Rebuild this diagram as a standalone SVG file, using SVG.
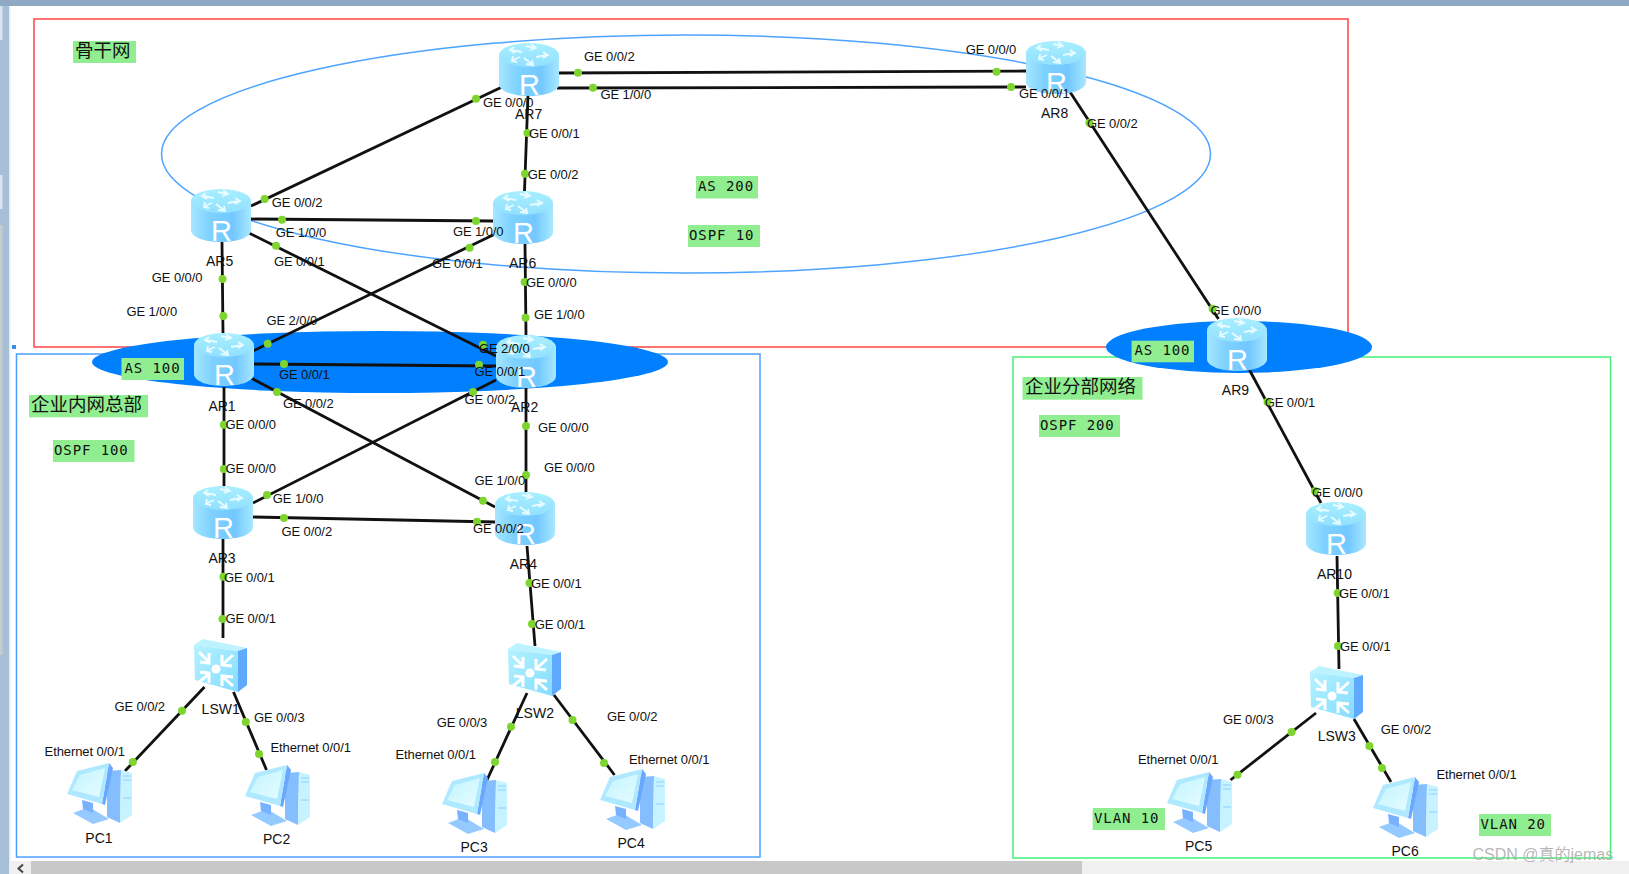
<svg xmlns="http://www.w3.org/2000/svg" xmlns:xlink="http://www.w3.org/1999/xlink" width="1629" height="874" viewBox="0 0 1629 874">
<style>
  text { font-family: "Liberation Sans", Arial, sans-serif; fill: #111; }
  .port { font-size: 13px; letter-spacing: -0.1px; }
  .name { font-size: 14px; }
  .icon-r { font-size: 29px; fill: #fff; font-weight: normal; }
  .tag { fill: #90ee90; }
  .mono { font-family: "DejaVu Sans Mono", monospace; font-size: 14px; letter-spacing: 0.9px; }
  .cjk { font-family: "Noto Sans CJK SC", "Liberation Sans", sans-serif; font-size: 18.500px; }
  .mark { font-family: "Liberation Sans", "Noto Sans CJK SC", sans-serif; font-size: 16px; fill: #aaa; fill-opacity: 0.85; }
  .lnk { stroke: #111; stroke-width: 2.800; fill: none; }
  .dot { fill: #7ed52f; }
  .zone { fill: none; stroke-width: 1.500; }
  .wh { fill: none; stroke: #e8fcff; stroke-width: 1.800; }
  .wh2 { fill: none; stroke: #fff; stroke-width: 3; }
</style>
<defs>
  <linearGradient id="body" x1="0" x2="1" y1="0" y2="0">
    <stop offset="0" stop-color="#a5e6ff"/><stop offset="0.3" stop-color="#7fd2ff"/>
    <stop offset="0.7" stop-color="#72c8ff"/><stop offset="1" stop-color="#a8e8ff"/>
  </linearGradient>
  <linearGradient id="top" x1="0" x2="0" y1="0" y2="1">
    <stop offset="0" stop-color="#a8efff"/><stop offset="1" stop-color="#92e0ff"/>
  </linearGradient>
  <linearGradient id="face" x1="0" x2="1" y1="0" y2="1">
    <stop offset="0" stop-color="#b4f2ff"/><stop offset="1" stop-color="#86dcff"/>
  </linearGradient>
  <linearGradient id="screen" x1="0" x2="1" y1="0" y2="1">
    <stop offset="0" stop-color="#c4f4ff"/><stop offset="1" stop-color="#e4fcff"/>
  </linearGradient>
  <!-- router drum, 60 x 53; the letter sits on top per node -->
  <g id="router">
    <path d="M0 12 V41 C0 48 13 53 30 53 S60 48 60 41 V12 Z" fill="url(#body)"/>
    <ellipse cx="30" cy="12" rx="30" ry="12" fill="url(#top)"/>
    <g class="wh">
      <path d="M23 9 L12 7 M15 4 L11 7 L16 10"/>
      <path d="M36 5 L27 3 M32 1 L37 5 L31 7"/>
      <path d="M37 14 L48 12 M44 9 L49 12 L44 15"/>
      <path d="M25 15 L33 21 M27 21 L34 22 L33 17"/>
      <path d="M21 14 L14 17 M14 13 L13 18 L18 19"/>
    </g>
  </g>
  <!-- layer-3 switch box, 53 x 53 -->
  <g id="switch">
    <polygon points="0,6 9,0 53,9 44,12" fill="#bdf3ff"/>
    <polygon points="44,12 53,9 53,46 44,53" fill="#5fa9ff"/>
    <polygon points="0,6 44,12 44,53 1,41" fill="url(#face)"/>
    <circle cx="22" cy="30" r="4.500" fill="#fff"/>
    <g class="wh2">
      <path d="M5 13 L15 23 M6 23 L15 24 L15 14"/>
      <path d="M39 16 L28 26 M28 16 L28 26 L38 27"/>
      <path d="M5 43 L15 35 M6 33 L15 34 L15 44"/>
      <path d="M39 47 L28 37 M28 47 L28 37 L39 38"/>
    </g>
  </g>
  <!-- desktop computer, 65 x 64 -->
  <g id="pc">
    <polygon points="40,8 54,7 53,60 40,54" fill="#84beff"/>
    <polygon points="54,7 65,10 65,52 53,60" fill="#c6f3ff"/>
    <path d="M56 13 H64 M56 17 H64 M56 35 H64" stroke="#8fd0ff" stroke-width="1" fill="none"/>
    <polygon points="6,50 22,44 42,56 26,61" fill="#94caff"/>
    <polygon points="15,37 26,40 26,50 16,46" fill="#78b2ff"/>
    <polygon points="42,0 46,5 38,42 35,41" fill="#6aa8ff"/>
    <polygon points="10,8 42,0 35,41 0,31" fill="#aee9ff"/>
    <polygon points="13,12 38,5 32,34 5,27" fill="url(#screen)"/>
  </g>
</defs>

<rect width="1629" height="874" fill="#fff"/>

<!-- window frame and scroll bar -->
<rect x="0" y="0" width="1629" height="6" fill="#8fa9c4"/>
<rect x="0" y="6" width="9" height="868" fill="#a6bed6"/>
<rect x="0" y="6" width="2.500" height="34" fill="#d8e4f0"/>
<rect x="0" y="175" width="2.500" height="34" fill="#d8e4f0"/>
<rect x="0" y="225" width="2.500" height="430" fill="#c8ccd0"/>
<rect x="9" y="6" width="1.500" height="868" fill="#e6edf4"/>
<rect x="10" y="861" width="1619" height="13" fill="#f0f0f0"/>
<rect x="31" y="861" width="1051" height="13" fill="#c8c8c8"/>
<path d="M23 864.500 L18.500 868.500 L23 872.500" fill="none" stroke="#444" stroke-width="2"/>
<rect x="12" y="345" width="4" height="4" fill="#3a8ee6"/>

<!-- area frames and AS ovals -->
<rect class="zone" x="34" y="19" width="1314" height="328" stroke="#f44"/>
<rect class="zone" x="16.500" y="354" width="743.500" height="503" stroke="#4aa0ff"/>
<rect class="zone" x="1013" y="357" width="597.500" height="501" stroke="#44f07a"/>
<ellipse cx="686" cy="154" rx="524.500" ry="119" fill="none" stroke="#4da4ff" stroke-width="1.500"/>
<ellipse cx="380" cy="362" rx="288" ry="31" fill="#007fff"/>
<ellipse cx="1239" cy="347" rx="133" ry="26" fill="#007fff"/>

<!-- links and their port markers -->
<g id="connectors">
  <line class="lnk" x1="251" y1="206" x2="502" y2="87"/>
  <line class="lnk" x1="251" y1="219" x2="493" y2="221"/>
  <line class="lnk" x1="249" y1="233" x2="496" y2="356"/>
  <line class="lnk" x1="493" y1="235" x2="253" y2="351"/>
  <line class="lnk" x1="222" y1="242" x2="223" y2="333"/>
  <line class="lnk" x1="525" y1="244" x2="526" y2="335"/>
  <line class="lnk" x1="253" y1="364" x2="496" y2="366" stroke-width="3.200"/>
  <line class="lnk" x1="251" y1="378" x2="495" y2="507"/>
  <line class="lnk" x1="496" y1="380" x2="253" y2="503"/>
  <line class="lnk" x1="224" y1="387" x2="224" y2="486"/>
  <line class="lnk" x1="526" y1="388" x2="526" y2="492"/>
  <line class="lnk" x1="253" y1="517" x2="495" y2="522"/>
  <line class="lnk" x1="223" y1="539" x2="223" y2="638"/>
  <line class="lnk" x1="527" y1="546" x2="535" y2="646"/>
  <line class="lnk" x1="204.500" y1="687" x2="125" y2="771"/>
  <line class="lnk" x1="233.500" y1="692" x2="266.500" y2="770"/>
  <line class="lnk" x1="527" y1="693" x2="487" y2="780"/>
  <line class="lnk" x1="554" y1="695" x2="614.500" y2="775"/>
  <line class="lnk" x1="559" y1="73" x2="1026" y2="71"/>
  <line class="lnk" x1="557" y1="88" x2="1026" y2="87"/>
  <line class="lnk" x1="528" y1="95" x2="524.500" y2="191"/>
  <line class="lnk" x1="1070" y1="92" x2="1218.500" y2="319"/>
  <line class="lnk" x1="1249.500" y1="370" x2="1321" y2="503"/>
  <line class="lnk" x1="1337" y1="556" x2="1339" y2="669"/>
  <line class="lnk" x1="1316" y1="713" x2="1230.500" y2="780"/>
  <line class="lnk" x1="1354" y1="719" x2="1391" y2="782"/>
  <g class="dot">
    <circle cx="264.600" cy="199" r="4"/><circle cx="282" cy="219.700" r="4"/><circle cx="276" cy="245.700" r="4"/>
    <circle cx="222.500" cy="279" r="4"/><circle cx="476" cy="98.700" r="4"/><circle cx="476" cy="221" r="4"/>
    <circle cx="469.600" cy="247.700" r="4"/><circle cx="527.500" cy="133" r="4"/><circle cx="525" cy="173.700" r="4"/>
    <circle cx="524.600" cy="282" r="4"/><circle cx="223.400" cy="316" r="4"/><circle cx="525.500" cy="317.700" r="4"/>
    <circle cx="267.700" cy="343.700" r="4"/><circle cx="483" cy="344.700" r="4"/><circle cx="284" cy="364" r="4"/>
    <circle cx="479" cy="364.700" r="4"/><circle cx="277" cy="392" r="4"/><circle cx="473" cy="392" r="4"/>
    <circle cx="223.800" cy="424.700" r="4"/><circle cx="526" cy="426" r="4"/><circle cx="223.800" cy="469" r="4"/>
    <circle cx="526" cy="475" r="4"/><circle cx="267" cy="495" r="4"/><circle cx="483" cy="500.700" r="4"/>
    <circle cx="284" cy="518" r="4"/><circle cx="477" cy="521.700" r="4"/><circle cx="223.400" cy="576.700" r="4"/>
    <circle cx="529.500" cy="583" r="4"/><circle cx="222.500" cy="619" r="4"/><circle cx="532" cy="624" r="4"/>
    <circle cx="182" cy="710.700" r="4"/><circle cx="245.800" cy="722" r="4"/><circle cx="132.800" cy="762" r="4"/>
    <circle cx="259" cy="754" r="4"/><circle cx="511" cy="726.700" r="4"/><circle cx="572.500" cy="720" r="4"/>
    <circle cx="495" cy="762" r="4"/><circle cx="604" cy="763" r="4"/><circle cx="578" cy="72.700" r="4"/>
    <circle cx="593" cy="87.700" r="4"/><circle cx="996.500" cy="71.700" r="4"/><circle cx="1011" cy="87" r="4"/>
    <circle cx="1089.400" cy="122.700" r="4"/><circle cx="1212.600" cy="308.700" r="4"/><circle cx="1267.500" cy="401.700" r="4"/>
    <circle cx="1315" cy="491" r="4"/><circle cx="1337.700" cy="593" r="4"/><circle cx="1338" cy="646" r="4"/>
    <circle cx="1291.600" cy="732" r="4"/><circle cx="1369.400" cy="746" r="4"/><circle cx="1237.500" cy="774.700" r="4"/>
    <circle cx="1382" cy="768" r="4"/>
  </g>
</g>

<!-- routers -->
<g id="AR1"><use href="#router" x="194" y="333"/><text class="icon-r" x="214" y="385">R</text><text class="name" x="208.400" y="410.700">AR1</text></g>
<g id="AR2"><use href="#router" x="496" y="335"/><text class="icon-r" x="516" y="387">R</text><text class="name" x="511" y="412">AR2</text></g>
<g id="AR3"><use href="#router" x="193" y="486"/><text class="icon-r" x="213" y="538">R</text><text class="name" x="208.400" y="563">AR3</text></g>
<g id="AR4"><use href="#router" x="495" y="492"/><text class="icon-r" x="515" y="544">R</text><text class="name" x="509.700" y="569">AR4</text></g>
<g id="AR5"><use href="#router" x="191" y="189"/><text class="icon-r" x="211" y="241">R</text><text class="name" x="206" y="265.700">AR5</text></g>
<g id="AR6"><use href="#router" x="493" y="191"/><text class="icon-r" x="513" y="243">R</text><text class="name" x="509" y="267.700">AR6</text></g>
<g id="AR7"><use href="#router" x="499" y="43"/><text class="icon-r" x="519" y="95">R</text><text class="name" x="515" y="119">AR7</text></g>
<g id="AR8"><use href="#router" x="1026" y="41"/><text class="icon-r" x="1046" y="93">R</text><text class="name" x="1041" y="118">AR8</text></g>
<g id="AR9"><use href="#router" x="1207" y="318"/><text class="icon-r" x="1227" y="370">R</text><text class="name" x="1221.800" y="394.700">AR9</text></g>
<g id="AR10"><use href="#router" x="1306" y="502"/><text class="icon-r" x="1326" y="554">R</text><text class="name" x="1316.900" y="579">AR10</text></g>

<!-- switches -->
<g id="LSW1"><use href="#switch" x="194" y="639"/><text class="name" x="201.600" y="714">LSW1</text></g>
<g id="LSW2"><use href="#switch" x="508" y="643"/><text class="name" x="515.800" y="718">LSW2</text></g>
<g id="LSW3"><use href="#switch" x="1310" y="666"/><text class="name" x="1317.700" y="741">LSW3</text></g>

<!-- hosts -->
<g id="PC1"><use href="#pc" x="67" y="763"/><text class="name" x="85.300" y="843.300">PC1</text></g>
<g id="PC2"><use href="#pc" x="245" y="765"/><text class="name" x="263" y="844">PC2</text></g>
<g id="PC3"><use href="#pc" x="442" y="773"/><text class="name" x="460.500" y="851.700">PC3</text></g>
<g id="PC4"><use href="#pc" x="600" y="769"/><text class="name" x="617.500" y="848">PC4</text></g>
<g id="PC5"><use href="#pc" x="1167" y="772"/><text class="name" x="1185" y="850.700">PC5</text></g>
<g id="PC6"><use href="#pc" x="1373" y="777"/><text class="name" x="1391.500" y="856">PC6</text></g>

<!-- interface labels -->
<g id="ports" class="port">
  <text x="271.800" y="207">GE 0/0/2</text><text x="275.700" y="237">GE 1/0/0</text><text x="274" y="266">GE 0/0/1</text>
  <text x="151.800" y="282">GE 0/0/0</text><text x="482.900" y="107">GE 0/0/0</text><text x="529" y="138">GE 0/0/1</text>
  <text x="527.800" y="179">GE 0/0/2</text><text x="452.900" y="235.700">GE 1/0/0</text><text x="432" y="268">GE 0/0/1</text>
  <text x="526" y="287">GE 0/0/0</text><text x="126.500" y="315.700">GE 1/0/0</text><text x="534" y="319.300">GE 1/0/0</text>
  <text x="266.500" y="324.700">GE 2/0/0</text><text x="479" y="353">GE 2/0/0</text><text x="279" y="379">GE 0/0/1</text>
  <text x="474.500" y="376">GE 0/0/1</text><text x="283" y="408">GE 0/0/2</text><text x="464.600" y="404">GE 0/0/2</text>
  <text x="225.400" y="429">GE 0/0/0</text><text x="538" y="432">GE 0/0/0</text><text x="225.400" y="473">GE 0/0/0</text>
  <text x="544" y="472">GE 0/0/0</text><text x="474.500" y="484.700">GE 1/0/0</text><text x="272.800" y="503">GE 1/0/0</text>
  <text x="281.500" y="535.700">GE 0/0/2</text><text x="473" y="533">GE 0/0/2</text><text x="224" y="582">GE 0/0/1</text>
  <text x="531" y="588">GE 0/0/1</text><text x="225.400" y="623">GE 0/0/1</text><text x="534.700" y="629">GE 0/0/1</text>
  <text x="114.400" y="710.700">GE 0/0/2</text><text x="254" y="722">GE 0/0/3</text><text x="44.600" y="756">Ethernet 0/0/1</text>
  <text x="270.500" y="752">Ethernet 0/0/1</text><text x="436.700" y="727">GE 0/0/3</text><text x="606.900" y="720.700">GE 0/0/2</text>
  <text x="395.500" y="758.700">Ethernet 0/0/1</text><text x="629" y="763.700">Ethernet 0/0/1</text>
  <text x="584" y="61">GE 0/0/2</text><text x="600.500" y="99.300">GE 1/0/0</text><text x="965.700" y="54.300">GE 0/0/0</text>
  <text x="1019" y="98.300">GE 0/0/1</text><text x="1087" y="128">GE 0/0/2</text><text x="1210.600" y="315">GE 0/0/0</text>
  <text x="1264.700" y="407.300">GE 0/0/1</text><text x="1312" y="497">GE 0/0/0</text><text x="1339" y="598">GE 0/0/1</text>
  <text x="1340" y="651">GE 0/0/1</text><text x="1223" y="723.700">GE 0/0/3</text><text x="1380.700" y="733.700">GE 0/0/2</text>
  <text x="1138" y="763.700">Ethernet 0/0/1</text><text x="1436.400" y="779">Ethernet 0/0/1</text>
</g>

<!-- green annotation tags -->
<g id="tags">
  <rect class="tag" x="73" y="41" width="63" height="22"/><text class="cjk" x="75" y="57">骨干网</text>
  <rect class="tag" x="696" y="176" width="62" height="22.500"/><text class="mono" x="698" y="191">AS 200</text>
  <rect class="tag" x="688" y="225" width="72" height="22"/><text class="mono" x="689" y="240">OSPF 10</text>
  <rect class="tag" x="121.500" y="358" width="62.500" height="22"/><text class="mono" x="124.500" y="372.700">AS 100</text>
  <rect class="tag" x="29" y="395" width="119" height="22.300"/><text class="cjk" x="31" y="410.500">企业内网总部</text>
  <rect class="tag" x="53" y="440" width="81.500" height="22"/><text class="mono" x="54" y="455">OSPF 100</text>
  <rect class="tag" x="1131.600" y="340.700" width="62.400" height="21.600"/><text class="mono" x="1134.400" y="355">AS 100</text>
  <rect class="tag" x="1022.500" y="377" width="120" height="22.700"/><text class="cjk" x="1025" y="392.700">企业分部网络</text>
  <rect class="tag" x="1039" y="415" width="81" height="22"/><text class="mono" x="1040" y="430">OSPF 200</text>
  <rect class="tag" x="1092.700" y="808" width="72.300" height="22"/><text class="mono" x="1094" y="822.700">VLAN 10</text>
  <rect class="tag" x="1479" y="814" width="72" height="22"/><text class="mono" x="1480.500" y="829">VLAN 20</text>
</g>

<text class="mark" x="1472.500" y="860">CSDN @真的jemas</text>
</svg>
